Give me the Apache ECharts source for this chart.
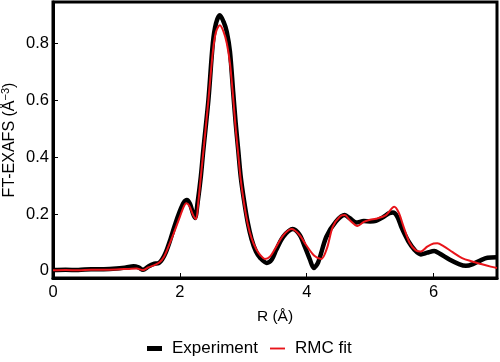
<!DOCTYPE html>
<html>
<head>
<meta charset="utf-8">
<script src="https://cdn.jsdelivr.net/npm/echarts@6/dist/echarts.min.js"></script>
<style>
html,body{margin:0;padding:0;background:#fff;}
#c{width:500px;height:362px;}
</style>
</head>
<body>
<div id="c"></div>
<script>
const xTicks = [0, 2, 4, 6];
const yTicks = [0, 0.2, 0.4, 0.6, 0.8];

const expR = [0.00,0.20,0.40,0.60,0.80,1.00,1.15,1.27,1.35,1.42,1.50,1.58,1.67,1.72,1.78,1.85,1.92,2.00,2.06,2.11,2.16,2.21,2.24,2.28,2.33,2.37,2.45,2.52,2.57,2.63,2.69,2.74,2.79,2.84,2.88,2.92,2.96,3.01,3.07,3.13,3.20,3.27,3.37,3.45,3.52,3.63,3.78,3.89,3.97,4.05,4.11,4.18,4.31,4.46,4.60,4.68,4.78,4.90,5.00,5.09,5.20,5.30,5.36,5.43,5.50,5.60,5.70,5.80,5.90,6.01,6.10,6.25,6.40,6.51,6.62,6.75,6.85,7.00];
const expY = [0.003,0.004,0.003,0.006,0.006,0.008,0.012,0.016,0.012,0.004,0.015,0.024,0.028,0.040,0.066,0.110,0.160,0.210,0.240,0.249,0.235,0.200,0.186,0.240,0.330,0.425,0.600,0.800,0.870,0.898,0.875,0.840,0.770,0.630,0.520,0.425,0.330,0.250,0.170,0.112,0.068,0.045,0.028,0.040,0.074,0.120,0.147,0.126,0.085,0.040,0.010,0.030,0.120,0.173,0.196,0.185,0.170,0.175,0.174,0.176,0.188,0.203,0.205,0.190,0.150,0.105,0.074,0.058,0.064,0.070,0.060,0.040,0.024,0.018,0.024,0.038,0.046,0.048];

const fitR = [0.00,0.20,0.40,0.60,0.80,1.00,1.20,1.32,1.42,1.50,1.60,1.68,1.75,1.82,1.90,2.00,2.06,2.10,2.15,2.21,2.255,2.29,2.33,2.38,2.45,2.52,2.57,2.63,2.69,2.74,2.79,2.84,2.88,2.92,2.96,3.01,3.07,3.13,3.20,3.27,3.34,3.42,3.52,3.63,3.76,3.88,3.99,4.12,4.23,4.32,4.41,4.52,4.60,4.68,4.80,4.90,5.00,5.09,5.25,5.38,5.45,5.52,5.62,5.72,5.80,5.90,6.00,6.06,6.15,6.30,6.45,6.61,6.75,6.90,7.00];
const fitY = [0.002,0.003,0.002,0.004,0.004,0.005,0.007,0.008,0.003,0.012,0.020,0.030,0.050,0.085,0.130,0.190,0.225,0.238,0.228,0.195,0.182,0.240,0.330,0.440,0.600,0.770,0.840,0.863,0.840,0.800,0.730,0.610,0.500,0.410,0.320,0.240,0.165,0.115,0.078,0.055,0.042,0.050,0.085,0.125,0.147,0.128,0.091,0.053,0.042,0.080,0.155,0.190,0.196,0.178,0.158,0.172,0.180,0.183,0.196,0.225,0.205,0.160,0.100,0.072,0.068,0.085,0.096,0.097,0.088,0.066,0.045,0.033,0.024,0.015,0.010];

const pair = (xs, ys) => xs.map((x, i) => [x, ys[i]]);
const font = 'Liberation Sans, Arial, sans-serif';
const RED = '#e8141a';

const chart = echarts.init(document.getElementById('c'), null, {renderer: 'canvas'});
chart.setOption({
  animation: false,
  backgroundColor: '#fff',
  grid: {left: 53, right: 3, top: 2, bottom: 84, containLabel: false, outerBoundsMode: 'none',
    show: true, borderColor: '#000', borderWidth: 3, backgroundColor: 'transparent'},
  legend: {
    bottom: 0, left: 142, itemWidth: 15, itemHeight: 5, itemGap: 12,
    textStyle: {fontFamily: font, fontSize: 17, color: '#000', padding: [0, 0, 0, 5]},
    data: [
      {name: 'Experiment', icon: 'rect', itemStyle: {color: '#000'}},
      {name: 'RMC fit', icon: 'path://M0,0M16,5M0,1.5H16V3.5H0Z', itemStyle: {color: RED}}
    ]
  },
  xAxis: {
    type: 'value', min: 0, max: 7, interval: 2,
    name: 'R (Å)', nameLocation: 'middle', nameGap: 31, nameMoveOverlap: false,
    nameTextStyle: {fontFamily: font, fontSize: 15.5, color: '#000'},
    axisLine: {show: true, onZero: false, lineStyle: {color: '#000', width: 3}},
    axisTick: {show: true, inside: true, length: 5, lineStyle: {color: '#000', width: 1}, customValues: xTicks},
    axisLabel: {fontFamily: font, fontSize: 16.5, color: '#000', margin: 6, customValues: xTicks},
    splitLine: {show: false}
  },
  yAxis: {
    type: 'value', min: -0.025, max: 0.945,
    name: '{a|FT-EXAFS (Å}{s|−3}{a|)}', nameLocation: 'middle', nameGap: 33, nameMoveOverlap: false,
    nameTextStyle: {fontFamily: font, color: '#000', rich: {
      a: {fontFamily: font, fontSize: 16, color: '#000', lineHeight: 20},
      s: {fontFamily: font, fontSize: 11, color: '#000', lineHeight: 20, verticalAlign: 'top'}
    }},
    axisLine: {show: true, onZero: false, lineStyle: {color: '#000', width: 3}},
    axisTick: {show: true, inside: true, length: 5, lineStyle: {color: '#000', width: 1}, customValues: yTicks},
    axisLabel: {fontFamily: font, fontSize: 16.5, color: '#000', margin: 4, customValues: yTicks,
      formatter: v => (v === 0 ? '0' : v.toFixed(1))},
    splitLine: {show: false}
  },
  series: [
    {name: 'Experiment', type: 'line', data: pair(expR, expY), symbol: 'none', smooth: 0.3,
      lineStyle: {color: '#000', width: 4.5}, itemStyle: {color: '#000'}, z: 2},
    {name: 'RMC fit', type: 'line', data: pair(fitR, fitY), symbol: 'none', smooth: 0.3,
      lineStyle: {color: RED, width: 2}, itemStyle: {color: RED}, z: 3}
  ]
});
</script>
</body>
</html>
